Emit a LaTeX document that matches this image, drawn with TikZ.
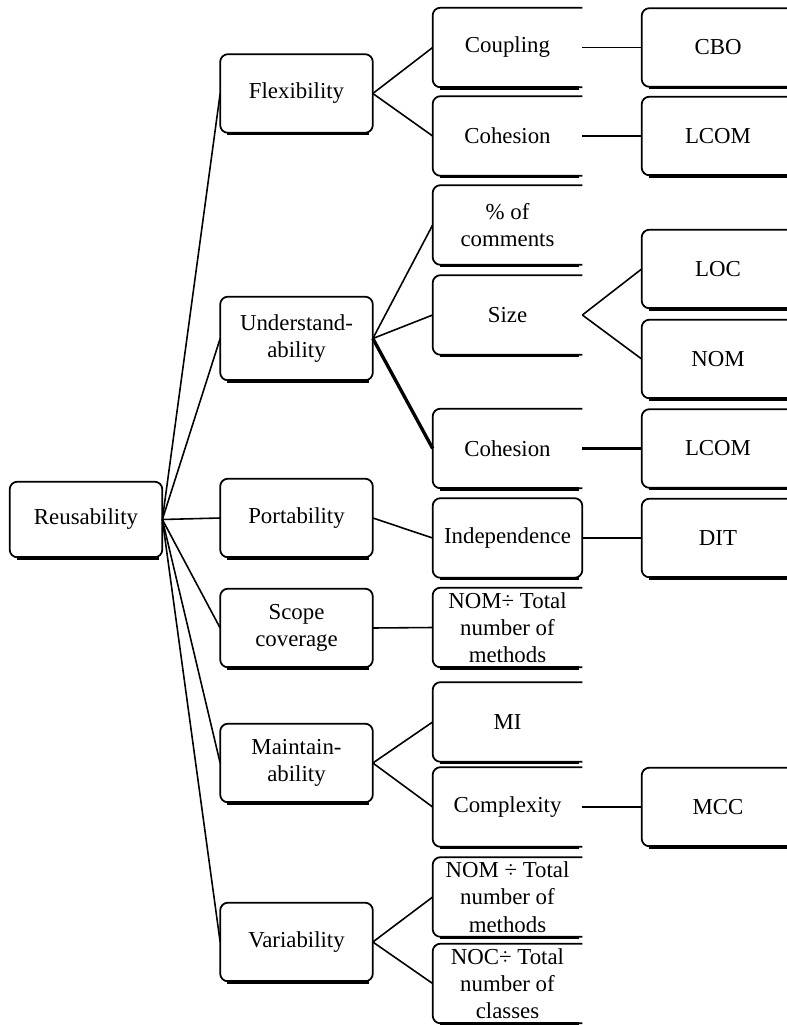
\documentclass[tikz,border=0pt]{standalone}
\usepackage{fontspec}
\setmainfont{Liberation Serif}
\usepackage{tikz}
\usetikzlibrary{positioning}

\begin{document}
\begin{tikzpicture}[on grid,
        every node/.style={font=\fontsize{13}{15.5}\selectfont},
        box/.style={minimum width=3.04cm, minimum height=1.56cm, inner sep=0pt, align=center},
        mid/.style={box, minimum width=2.98cm, minimum height=1.58cm},
        rim/.style={line width=1pt, rounded corners=4.5pt},
        base/.style={line width=2pt},
        link/.style={line width=0.9pt},
        heavy/.style={line width=1.9pt}]

      \useasboundingbox (0,0) rectangle (15.74,-20.5);

      % root and first level
      \node[box, minimum height=1.5cm] (reuse) at (1.72,-10.39) {Reusability};
      \node[box] (flex)  at (5.93,-1.87)  {Flexibility};
      \node[box, minimum height=1.66cm] (und) at (5.93,-6.77) {Understand-\\ability};
      \node[box] (port)  at (5.93,-10.36) {Portability};
      \node[box] (scope) at (5.93,-12.56) {Scope\\coverage};
      \node[box] (maint) at (5.93,-15.26) {Maintain-\\ability};
      \node[box] (var)   at (5.93,-18.84) {Variability};

      % second level
      \node[mid] (coup)   at (10.15,-0.95)  {Coupling};
      \node[mid] (cohA)   at (10.15,-2.72)  {Cohesion};
      \node[mid] (pct)    at (10.15,-4.5)   {\% of\\comments};
      \node[mid] (size)   at (10.15,-6.3)   {Size};
      \node[mid] (cohB)   at (10.15,-8.97)  {Cohesion};
      \node[mid] (indep)  at (10.15,-10.76) {Independence};
      \node[mid] (ratioA) at (10.15,-12.55) {NOM÷ Total\\number of\\methods};
      \node[mid] (mi)     at (10.15,-14.44) {MI};
      \node[mid] (cplx)   at (10.15,-16.14) {Complexity};
      \node[mid] (ratioB) at (10.15,-17.94) {NOM ÷ Total\\number of\\methods};
      \node[mid] (ratioC) at (10.15,-19.67) {NOC÷ Total\\number of\\classes};

      % metrics
      \node[box] (cbo)   [right=4.21cm of coup]  {CBO};
      \node[box] (lcomA) [right=4.21cm of cohA]  {LCOM};
      \node[box] (loc)   at (14.36,-5.38)        {LOC};
      \node[box] (nom)   at (14.36,-7.18)        {NOM};
      \node[box] (lcomB) [right=4.21cm of cohB]  {LCOM};
      \node[box] (dit)   [right=4.21cm of indep] {DIT};
      \node[box] (mcc)   [right=4.21cm of cplx]  {MCC};

      \foreach \n in {reuse,flex,und,port,scope,maint,var,indep,cbo,lcomA,loc,nom,lcomB,dit,mcc}
        \draw[rim] (\n.south west) rectangle (\n.north east);
      \foreach \n in {coup,cohA,pct,size,cohB,ratioA,mi,cplx,ratioB,ratioC}
        \draw[rim] (\n.north east) -- (\n.north west) -- (\n.south west) -- (\n.south east);
      \foreach \n in {reuse,flex,und,port,scope,maint,var,coup,cohA,pct,size,cohB,indep,ratioA,mi,cplx,ratioB,ratioC,cbo,lcomA,loc,nom,lcomB,dit,mcc}
        \draw[base] ([xshift=4pt,yshift=-0.5pt]\n.south west) -- ([xshift=-2pt,yshift=-0.5pt]\n.south east);

      \path[link] (reuse.east) edge (flex.west) edge (und.west) edge (port.west)
                               edge (scope.west) edge (maint.west) edge (var.west)
                  (flex.east) edge (coup.west) edge (cohA.west)
                  (und.east) edge (pct.west) edge (size.west) edge[heavy] (cohB.west)
                  (port.east) edge (indep.west)
                  (scope.east) edge (ratioA.west)
                  (maint.east) edge (mi.west) edge (cplx.west)
                  (var.east) edge (ratioB.west) edge (ratioC.west)
                  (coup.east) edge (cbo.west)
                  (cohA.east) edge (lcomA.west)
                  (size.east) edge (loc.west) edge (nom.west)
                  (cohB.east) edge[heavy] (lcomB.west)
                  (indep.east) edge (dit.west)
                  (cplx.east) edge (mcc.west);
    \end{tikzpicture}
\end{document}
